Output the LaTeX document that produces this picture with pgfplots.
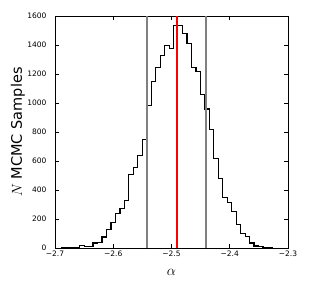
\documentclass[border=0pt]{standalone}
\usepackage{fontspec}
\setmainfont{DejaVu Sans}
\usepackage{pgfplots}
\pgfplotsset{compat=1.18}
\begin{document}
\begin{tikzpicture}
\begin{axis}[
 scale only axis, width=233pt, height=232pt,
 xmin=-2.7, xmax=-2.3, ymin=0, ymax=1600,
 xtick={-2.7,-2.6,-2.5,-2.4,-2.3},
 xticklabels={−2.7,−2.6,−2.5,−2.4,−2.3},
 ytick={0,200,400,600,800,1000,1200,1400,1600},
 tick align=inside, major tick length=4pt,
 tick style={black, line width=0.6pt},
 axis line style={line width=0.9pt},
 ticklabel style={font=\fontsize{7.5}{8}\selectfont},
 yticklabel style={/pgf/number format/assume math mode=true, /pgf/number format/1000 sep={}, xshift=-5pt},
 xticklabel style={yshift=1pt},
 xlabel={$\alpha$}, ylabel={$N$ MCMC Samples},
 xlabel style={font=\fontsize{14}{15}\selectfont, at={(axis description cs:0.5,-0.106)}, anchor=center},
 ylabel style={font=\fontsize{14.5}{16}\selectfont, at={(axis description cs:-0.159,0.5)}, anchor=center},
]
\addplot[const plot, black, line width=1.2pt] coordinates {
(-2.6883,0)
(-2.6883,5) (-2.6806,2) (-2.6730,5) (-2.6653,2) (-2.6576,16) (-2.6499,9)
(-2.6423,12) (-2.6346,34) (-2.6269,39) (-2.6192,76) (-2.6116,126) (-2.6039,177)
(-2.5962,240) (-2.5885,275) (-2.5809,327) (-2.5732,505) (-2.5655,555) (-2.5578,636)
(-2.5502,751) (-2.5425,983) (-2.5348,1148) (-2.5271,1247) (-2.5195,1325) (-2.5118,1394)
(-2.5041,1378) (-2.4964,1534) (-2.4888,1534) (-2.4811,1481) (-2.4734,1412) (-2.4657,1247)
(-2.4581,1217) (-2.4504,1061) (-2.4427,958) (-2.4350,815) (-2.4274,620) (-2.4197,477)
(-2.4120,349) (-2.4043,315) (-2.3967,250) (-2.3890,163) (-2.3813,99) (-2.3736,80)
(-2.3660,34) (-2.3583,14) (-2.3506,9) (-2.3429,5) (-2.3353,2) (-2.3276,2)
(-2.3276,0)
};
\addplot[color=gray, line width=1.7pt] coordinates {(-2.5415,0) (-2.5415,1600)};
\addplot[color=gray, line width=1.7pt] coordinates {(-2.4410,0) (-2.4410,1600)};
\addplot[color=red, line width=2pt] coordinates {(-2.4905,0) (-2.4905,1600)};
\end{axis}
\pgfresetboundingbox
\path[use as bounding box] ([shift={(-55pt,-43pt)}]current axis.south west) rectangle ([shift={(23pt,16pt)}]current axis.north east);
\end{tikzpicture}
\end{document}
